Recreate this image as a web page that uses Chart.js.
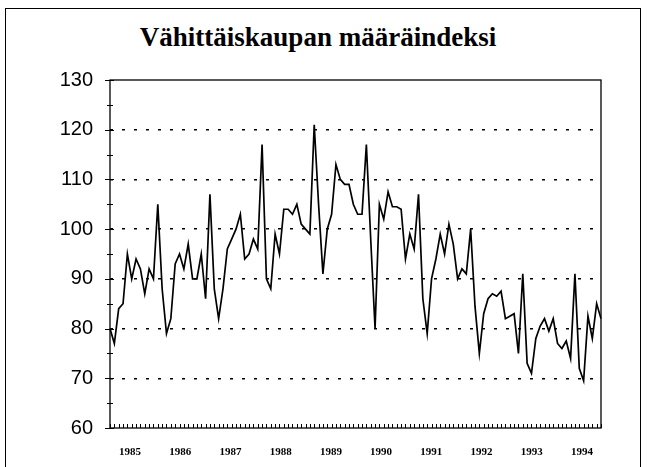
<!DOCTYPE html>
<html>
<head>
<meta charset="utf-8">
<script src="https://cdn.jsdelivr.net/npm/chart.js@4/dist/chart.umd.min.js"></script>
<style>
  html,body{margin:0;padding:0;background:#fff;}
  #wrap{position:relative;width:649px;height:467px;overflow:hidden;}
  #frame{position:absolute;left:5px;top:8px;width:634px;height:480px;border:1.5px solid #000;}
  #title{position:absolute;left:0;top:20px;width:636px;text-align:center;
    font:bold 27px "Liberation Serif","Times New Roman",serif;line-height:34px;color:#000;}
  #cv{position:absolute;left:0;top:0;}
</style>
</head>
<body>
<div id="wrap">
  <div id="frame"></div>
  <div id="title">Vähittäiskaupan määräindeksi</div>
  <canvas id="cv" width="649" height="467"></canvas>
</div>
<script>
// monthly index, Jan 1985 .. Jun 1994
const v1985 = [80, 77, 84, 85, 95, 90, 94, 92, 87, 92, 90, 105];
const v1986 = [88, 79, 82, 93, 95, 92, 97, 90, 90, 95, 86, 107];
const v1987 = [88, 82, 88, 96, 98, 100, 103, 94, 95, 98, 96, 117];
const v1988 = [90, 88, 99, 95, 104, 104, 103, 105, 101, 100, 99, 121];
const v1989 = [105, 91, 100, 103, 113, 110, 109, 109, 105, 103, 103, 117];
const v1990 = [98, 80, 105, 102, 107.5, 104.5, 104.5, 104, 94, 99, 96, 107];
const v1991 = [86, 79, 90, 94, 99, 95, 101, 97, 90, 92, 91, 100];
const v1992 = [84.5, 75, 83, 86, 87, 86.5, 87.5, 82, 82.5, 83, 75, 91];
const v1993 = [73, 71, 78, 80.5, 82, 79.5, 82, 77, 76, 77.5, 74, 91];
const v1994 = [72, 69.5, 82.5, 78, 85, 82];

const years = [1985, 1986, 1987, 1988, 1989, 1990, 1991, 1992, 1993, 1994];
const yearValues = [v1985, v1986, v1987, v1988, v1989, v1990, v1991, v1992, v1993, v1994];

const months = [];
const values = [];
yearValues.forEach((arr, i) => arr.forEach((v, m) => { months.push(years[i] + '-' + (m + 1)); values.push(v); }));

// axis box + tick marks like the original
const axisMarks = {
  id: 'axisMarks',
  afterDraw(chart){
    const {ctx, chartArea:a, scales:{x, y}} = chart;
    ctx.save();
    ctx.strokeStyle = '#000';
    ctx.lineWidth = 1.3;
    ctx.strokeRect(a.left, a.top, a.right - a.left, a.bottom - a.top);
    ctx.lineWidth = 1;
    ctx.beginPath();
    for (let v = 60; v <= 130; v += 5) {
      const py = Math.round(y.getPixelForValue(v)) + 0.5;
      const big = v % 10 === 0;
      ctx.moveTo(a.left - (big ? 5 : 3), py);
      ctx.lineTo(a.left + (big ? 4 : 3), py);
    }
    for (let i = 0; i < months.length; i++) {
      const px = Math.round(x.getPixelForValue(i)) + 0.5;
      ctx.moveTo(px, a.bottom);
      ctx.lineTo(px, a.bottom - 4);
    }
    ctx.stroke();
    ctx.restore();
  }
};

new Chart(document.getElementById('cv'), {
  type: 'line',
  data: { labels: months, datasets: [{
    data: values, borderColor: '#000', borderWidth: 1.7, pointRadius: 0, tension: 0, fill: false
  }]},
  options: {
    responsive: false, animation: false,
    layout: { padding: { top: 80, right: 48, left: 0, bottom: 0 } },
    plugins: { legend: { display: false }, tooltip: { enabled: false } },
    scales: {
      x: { type: 'category', display: false },
      yr: {
        type: 'linear', position: 'bottom', min: 1984.6, max: 1994.38,
        grid: { display: false }, border: { display: false },
        afterFit: s => { s.height = 39; },
        ticks: { stepSize: 1, includeBounds: false, autoSkip: false, maxRotation: 0, padding: 10,
          color: '#000', font: { family: '"Liberation Serif", "Times New Roman", serif', size: 11, weight: 'bold' },
          callback: v => Number.isInteger(v) ? String(v) : '' }
      },
      y: {
        min: 60, max: 130,
        afterFit: s => { s.width = 110; },
        border: { display: false, dash: [3, 9] },
        grid: { drawTicks: false, lineWidth: 1.5,
          color: c => (c.tick.value === 60 || c.tick.value === 130) ? 'rgba(0,0,0,0)' : '#000' },
        ticks: { stepSize: 10, padding: 17, color: '#000',
          font: { family: '"Liberation Sans", Arial, sans-serif', size: 20 } }
      }
    }
  },
  plugins: [axisMarks]
});
</script>
</body>
</html>
